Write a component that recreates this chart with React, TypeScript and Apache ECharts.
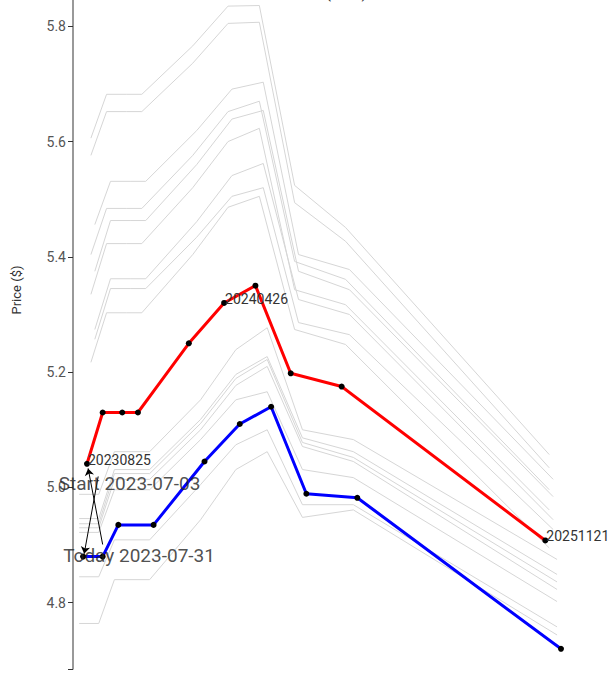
import React, { useEffect, useRef } from "react";
import * as echarts from "echarts";

// Highlighted curves
const redDates = ["2023-08-25", "2023-09-22", "2023-10-27", "2023-11-24", "2024-02-23", "2024-04-26", "2024-06-21", "2024-08-23", "2024-11-22", "2025-11-21"];
const redValues = [5.041, 5.13, 5.13, 5.13, 5.25, 5.32, 5.35, 5.198, 5.175, 4.908];
const redLabelIdx = [0, 5, 9];

const blueDates = ["2023-08-18", "2023-09-22", "2023-10-20", "2023-12-22", "2024-03-22", "2024-05-24", "2024-07-19", "2024-09-20", "2024-12-20", "2025-12-19"];
const blueValues = [4.88, 4.88, 4.935, 4.935, 5.045, 5.11, 5.14, 4.989, 4.982, 4.72];

// Background (grey) curves
const upperDatesA = ["2023-09-01", "2023-09-29", "2023-11-03", "2023-12-01", "2024-03-01", "2024-05-03", "2024-06-28", "2024-08-30", "2024-11-29", "2025-11-28"];
const upperDatesB = ["2023-09-08", "2023-10-06", "2023-11-10", "2023-12-08", "2024-03-08", "2024-05-10", "2024-07-05", "2024-09-06", "2024-12-06", "2025-12-05"];
const lowerDates = ["2023-08-11", "2023-09-15", "2023-10-13", "2023-12-15", "2024-03-15", "2024-05-17", "2024-07-12", "2024-09-13", "2024-12-13", "2025-12-12"];

const grey1 = [5.606, 5.682, 5.682, 5.682, 5.766, 5.835, 5.836, 5.524, 5.451, 5.057];
const grey2 = [5.576, 5.652, 5.652, 5.652, 5.736, 5.805, 5.807, 5.494, 5.427, 5.034];
const grey3 = [5.456, 5.531, 5.531, 5.531, 5.619, 5.691, 5.703, 5.404, 5.378, 5.014];
const grey4 = [5.404, 5.484, 5.484, 5.484, 5.576, 5.652, 5.67, 5.392, 5.361, 4.996];
const grey5 = [5.375, 5.463, 5.463, 5.463, 5.56, 5.639, 5.654, 5.375, 5.343, 4.984];
const grey6 = [5.335, 5.423, 5.423, 5.423, 5.52, 5.6, 5.623, 5.343, 5.317, 4.961];
const grey7 = [5.274, 5.362, 5.362, 5.362, 5.461, 5.541, 5.562, 5.326, 5.3, 4.944];
const grey8 = [5.257, 5.345, 5.345, 5.345, 5.434, 5.505, 5.52, 5.286, 5.265, 4.927];
const grey9 = [5.217, 5.303, 5.303, 5.303, 5.404, 5.486, 5.505, 5.274, 5.248, 4.895];
const greyL1 = [4.988, 4.988, 5.062, 5.062, 5.152, 5.239, 5.277, 5.1, 5.083, 4.875];
const greyL2 = [4.946, 4.946, 5.031, 5.031, 5.118, 5.196, 5.227, 5.086, 5.062, 4.849];
const greyL3 = [4.937, 4.937, 5.024, 5.024, 5.111, 5.189, 5.222, 5.078, 5.052, 4.836];
const greyL4 = [4.93, 4.93, 5.014, 5.014, 5.1, 5.177, 5.21, 5.071, 5.045, 4.823];
const greyL5 = [4.922, 4.922, 4.996, 4.996, 5.083, 5.152, 5.166, 5.031, 5.017, 4.802];
const greyL6 = [4.845, 4.845, 4.909, 4.909, 5.005, 5.074, 5.1, 4.97, 4.97, 4.758];
const greyL7 = [4.764, 4.764, 4.84, 4.84, 4.944, 5.031, 5.062, 4.948, 4.961, 4.744];

const greyCurves: [string[], number[]][] = [
  [upperDatesA, grey1], [upperDatesA, grey2], [upperDatesB, grey3], [upperDatesA, grey4],
  [upperDatesB, grey5], [upperDatesA, grey6], [upperDatesB, grey7], [upperDatesB, grey8],
  [upperDatesA, grey9], [lowerDates, greyL1], [lowerDates, greyL2], [lowerDates, greyL3],
  [lowerDates, greyL4], [lowerDates, greyL5], [lowerDates, greyL6], [lowerDates, greyL7],
];

// Axes
const xMin = "2023-07-31";
const xMax = "2026-03-13";
const yMin = 4.685;
const yMax = 6.0;
const yTickValues = [4.685, 4.8, 5.0, 5.2, 5.4, 5.6, 5.8, 6.0];
const yLabelValues = [4.8, 5.0, 5.2, 5.4, 5.6, 5.8, 6.0];

// Annotations: text, text anchor, arrow start, arrow end
const annotTexts = ["Start 2023-07-03", "Today 2023-07-31"];
const annotAnchors: [string, number][] = [["2023-11-09", 5.007], ["2023-11-26", 4.882]];
const arrowFrom: [string, number][] = [["2023-09-14", 5.019], ["2023-09-22", 4.901]];
const arrowTo: [string, number][] = [["2023-08-20", 4.885], ["2023-08-27", 5.033]];

const FONT = "Roboto";

export default function App() {
  const ref = useRef<HTMLDivElement>(null);
  useEffect(() => {
    if (!ref.current) return;
    const chart = echarts.init(ref.current, undefined, { renderer: "svg" });
    const zip = (d: string[], v: number[]) => d.map((x, i) => [x, v[i]]);

    const greySeries = greyCurves.map(([d, v], i) => ({
      type: "line",
      name: "g" + i,
      data: zip(d, v),
      showSymbol: false,
      symbol: "none",
      lineStyle: { color: "#d6d6d6", width: 1 },
      silent: true,
      z: 1,
    }));

    const redData = redDates.map((d, i) =>
      redLabelIdx.includes(i)
        ? {
            value: [d, redValues[i]],
            label: {
              show: true,
              formatter: d.replace(/-/g, ""),
              position: "right",
              distance: 0,
              offset: [-2, -4],
              color: "#333",
              fontSize: 14,
              fontFamily: FONT,
            },
          }
        : { value: [d, redValues[i]] }
    );

    chart.setOption({
      animation: false,
      backgroundColor: "#fff",
      title: {
        text: "Price Scenarios (USD)",
        right: 246,
        top: 104,
        padding: 0,
        textStyle: { fontSize: 16, fontWeight: "normal", color: "#333", fontFamily: FONT },
      },
      grid: { left: 73, right: 5, top: 31, bottom: 8 },
      xAxis: {
        type: "time",
        min: xMin,
        max: xMax,
        show: false,
      },
      yAxis: {
        type: "value",
        min: yMin,
        max: yMax,
        name: "Price ($)",
        nameLocation: "middle",
        nameGap: 50,
        nameTextStyle: { fontSize: 13, color: "#333", fontFamily: FONT },
        axisLine: { show: true, lineStyle: { color: "#777", width: 1.5 } },
        axisTick: { show: true, length: 5, lineStyle: { color: "#333" }, customValues: yTickValues },
        axisLabel: {
          color: "#555",
          fontSize: 14,
          fontFamily: FONT,
          margin: 7,
          customValues: yLabelValues,
          formatter: (v: number) => v.toFixed(1),
        },
        splitLine: { show: false },
      },
      series: [
        ...greySeries,
        {
          type: "line",
          name: "red",
          data: redData,
          symbol: "circle",
          symbolSize: 6,
          showSymbol: true,
          itemStyle: { color: "#000" },
          lineStyle: { color: "#ff0000", width: 3 },
          z: 3,
        },
        {
          type: "line",
          name: "blue",
          data: zip(blueDates, blueValues),
          symbol: "circle",
          symbolSize: 6,
          showSymbol: true,
          itemStyle: { color: "#000" },
          lineStyle: { color: "#0000ff", width: 3 },
          z: 3,
        },
        {
          type: "scatter",
          name: "annot",
          symbolSize: 0,
          z: 5,
          data: annotAnchors.map((a, i) => ({
            value: a,
            label: {
              show: true,
              position: "inside",
              formatter: annotTexts[i],
              color: "#222",
              fontSize: 19,
              fontFamily: FONT,
            },
          })),
          markLine: {
            silent: true,
            symbol: ["none", "arrow"],
            symbolSize: 7,
            label: { show: false },
            lineStyle: { color: "#000", width: 1, type: "solid" },
            data: arrowFrom.map((f, i) => [{ coord: f }, { coord: arrowTo[i] }]),
          },
        },
      ],
    });
    return () => chart.dispose();
  }, []);
  return (
    <div
      ref={ref}
      style={{ position: "fixed", left: 0, top: -120, width: 613, height: 797 }}
    />
  );
}
